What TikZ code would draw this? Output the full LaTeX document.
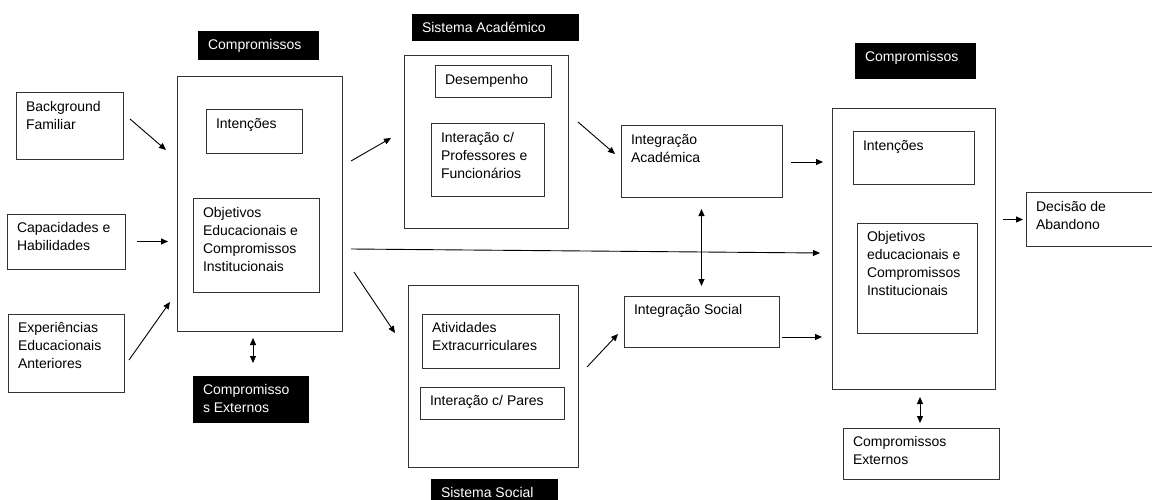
\documentclass[tikz,border=0pt]{standalone}
\usepackage{fontspec}
\setmainfont{Liberation Sans}
\usetikzlibrary{calc,arrows.meta}
\newcommand{\boxfont}{\fontsize{14}{18}\selectfont}
\newcommand{\boxtext}[3]{\parbox[t][\dimexpr#2pt-12pt\relax][t]{\dimexpr#1pt-20pt\relax}{\raggedright\strut#3}}
\tikzset{
  box/.style={draw=black!80, line width=1pt, anchor=north west, outer sep=0pt, inner xsep=10pt, inner ysep=6pt, font=\boxfont},
  frame/.style={draw=black!80, line width=1pt, anchor=north west, outer sep=0pt, inner sep=0pt},
  tag/.style={fill=black, text=white, anchor=north west, outer sep=0pt, inner xsep=10pt, inner ysep=6pt, font=\boxfont},
  >={Triangle[length=7pt,width=6pt]},
  arr/.style={->, line width=0.9pt},
  dbl/.style={<->, line width=0.9pt},
}
\begin{document}
\begin{tikzpicture}[x=1pt,y=-1pt]
\useasboundingbox (0,0) rectangle (1152,500);
\node[tag] (lcom) at (198,31) {\boxtext{121}{29}{Compromissos}};
\node[frame, minimum width=165pt, minimum height=254pt] (lbig) at (177,77) {};
\node[box] (lint) at (206,110) {\boxtext{96}{44}{Intenções}};
\node[box] (lobj) at (193,199) {\boxtext{126}{93}{Objetivos\\Educacionais e\\Compromissos\\Institucionais}};
\node[box] (bg) at (16,93) {\boxtext{107}{67}{Background\\Familiar}};
\node[box] (cap) at (7,214) {\boxtext{118}{55}{Capacidades e\\Habilidades}};
\node[box] (exp) at (8,314) {\boxtext{116}{78}{Experiências\\Educacionais\\Anteriores}};
\node[tag] (lext) at (193,376) {\boxtext{116}{47}{Compromisso\\s Externos}};
\node[tag] (acom) at (412,14) {\boxtext{167}{27}{Sistema Académico}};
\node[frame, minimum width=164pt, minimum height=172pt] (acad) at (404,56) {};
\node[box] (desemp) at (435,66) {\boxtext{116}{32}{Desempenho}};
\node[box] (intprof) at (431,124) {\boxtext{113}{73}{Interação c/\\Professores e\\Funcionários}};
\node[box] (intA) at (621,126) {\boxtext{161}{72}{Integração\\Académica}};
\node[frame, minimum width=170pt, minimum height=182pt] (soc) at (408,285) {};
\node[box] (ativ) at (422,314) {\boxtext{137}{54}{Atividades\\Extracurriculares}};
\node[box] (pares) at (420,387) {\boxtext{144}{32}{Interação c/ Pares}};
\node[tag] (scom) at (431,479) {\boxtext{127}{30}{Sistema Social}};
\node[box] (intS) at (624,296) {\boxtext{155}{51}{Integração Social}};
\node[tag] (rcom) at (855,43) {\boxtext{121}{36}{Compromissos}};
\node[frame, minimum width=163pt, minimum height=280pt] (rbig) at (832,109) {};
\node[box] (rint) at (853,132) {\boxtext{121}{53}{Intenções}};
\node[box] (robj) at (857,223) {\boxtext{120}{110}{Objetivos\\educacionais e\\Compromissos\\Institucionais}};
\node[box] (dec) at (1026,193) {\boxtext{134}{53}{Decisão de\\Abandono}};
\node[box] (rext) at (843,428) {\boxtext{156}{51}{Compromissos\\Externos}};
\draw[arr] ($(bg.east)+(7,-7.5)$) -- ($(lbig.west)+(-11,-54)$);
\draw[arr, shorten <=12pt, shorten >=9pt] (cap.east) -- (cap.east -| lbig.west);
\draw[arr] ($(exp.east)+(5,7)$) -- ($(lbig.west)+(-7,98)$);
\draw[dbl] ($(lbig.south)+(-6.5,7)$) -- ($(lbig.south)+(-6.5,32)$);
\draw[arr] ($(lbig.east)+(9,-43)$) -- ($(acad.west)+(-13,-4)$);
\draw[arr] ($(lbig.east)+(9,45)$) -- ($(rbig.west)+(-12,4)$);
\draw[arr] ($(lbig.east)+(12,68)$) -- ($(soc.west)+(-13,-43)$);
\draw[arr] ($(acad.east)+(10,-20)$) -- ($(intA.west)+(-6,-8)$);
\draw[dbl, shorten <=11pt, shorten >=10pt] (intA.south) -- (intA.south |- intS.north);
\draw[arr] ($(soc.east)+(9,-9)$) -- ($(intS.west)+(-6,12.5)$);
\draw[arr, shorten <=9pt, shorten >=9pt] (intA.east) -- (intA.east -| rbig.west);
\draw[arr] ($(intS.east)+(3,15.5)$) -- ($(intS.east -| rbig.west)+(-10,15.5)$);
\draw[arr, shorten <=8pt, shorten >=3pt] (dec.west -| rbig.east) -- (dec.west);
\draw[dbl] ($(rext.north)+(-1,-31)$) -- ($(rext.north)+(-1,-5)$);
\end{tikzpicture}
\end{document}
